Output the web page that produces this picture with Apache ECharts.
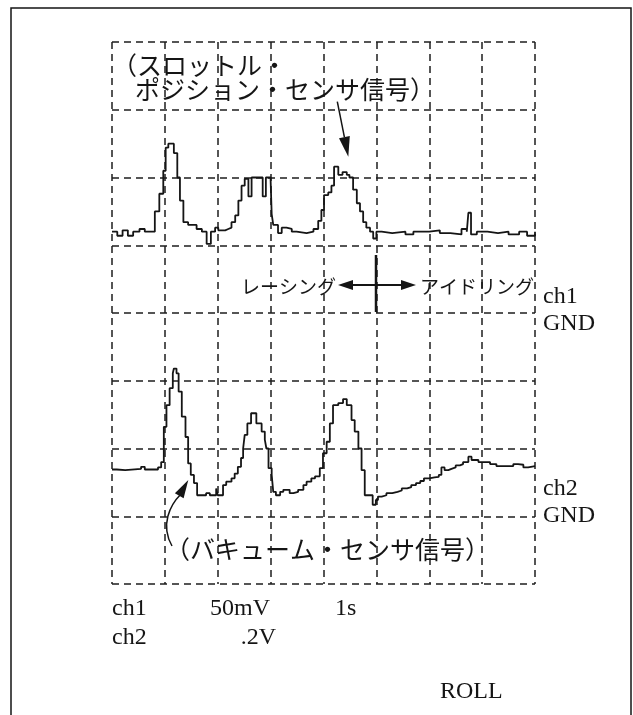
<!DOCTYPE html>
<html><head><meta charset="utf-8">
<script src="https://cdn.jsdelivr.net/npm/echarts/dist/echarts.min.js"></script>
<style>html,body{margin:0;padding:0;background:#fff}#c{width:633px;height:715px}</style>
</head><body><div id="c"></div>
<script>
// time axis: 1 s/div, 8 divisions
const timeTicks = [0, 1, 2, 3, 4, 5, 6, 7, 8];
const divTicks = [0, 1, 2, 3, 4, 5, 6, 7, 8];
// ch1: throttle position sensor, 50 mV/div, GND at division 4
const ch1Time = [0,0.10,0.20,0.30,0.40,0.52,0.62,0.81,0.895,0.97,1.015,1.065,1.17,1.235,1.285,1.35,1.44,1.60,1.70,1.79,1.87,1.95,2.01,2.14,2.20,2.26,2.33,2.39,2.45,2.51,2.58,2.64,2.85,2.91,3.00,3.02,3.05,3.14,3.21,3.30,3.40,3.49,3.68,3.81,3.90,3.96,4.01,4.09,4.15,4.20,4.28,4.36,4.44,4.49,4.56,4.63,4.69,4.75,4.81,4.88,4.94,5.00,5.10,5.30,5.55,5.70,6.00,6.20,6.40,6.61,6.71,6.74,6.79,6.90,7.10,7.30,7.50,7.70,7.85,8.00];
const ch1MilliVolts = [60,57,61,57,60,62,60,75,88,105,122,125,118,100,83,67,65,62,60,51,60,63,61,62,63,67,72,83,94,99,86,100,86,100,98,73,65,59,63,62,60,59,60,62,68,76,87,89,94,108,102,104,102,100,91,81,75,67,63,60,55,60,59,60,58,60,61,59,58,62,60,74,58,60,59,60,58,60,57,60];
// ch2: vacuum sensor, 0.2 V/div, GND at division 1
const ch2Time = [0,0.09,0.25,0.55,0.62,0.87,0.93,0.98,1.03,1.09,1.15,1.17,1.22,1.26,1.32,1.39,1.44,1.49,1.55,1.61,1.78,1.85,1.97,2.00,2.10,2.16,2.26,2.32,2.38,2.44,2.48,2.51,2.56,2.63,2.73,2.83,2.89,2.92,2.96,3.02,3.05,3.10,3.18,3.24,3.36,3.43,3.52,3.62,3.68,3.77,3.84,3.93,3.99,4.06,4.12,4.18,4.28,4.37,4.44,4.53,4.59,4.66,4.72,4.78,4.93,4.99,5.03,5.10,5.19,5.30,5.40,5.48,5.58,5.66,5.75,5.83,5.90,6.00,6.10,6.18,6.23,6.29,6.36,6.42,6.50,6.58,6.64,6.74,6.80,6.93,7.15,7.27,7.59,7.68,7.78,7.87,8.00];
const ch2Volts = [0.138,0.136,0.140,0.146,0.138,0.144,0.160,0.264,0.328,0.378,0.422,0.436,0.422,0.368,0.294,0.234,0.156,0.122,0.098,0.062,0.068,0.062,0.082,0.062,0.092,0.102,0.112,0.126,0.146,0.172,0.200,0.240,0.274,0.304,0.274,0.250,0.226,0.200,0.142,0.122,0.072,0.062,0.072,0.078,0.068,0.072,0.078,0.092,0.102,0.112,0.118,0.142,0.186,0.220,0.274,0.328,0.334,0.346,0.328,0.284,0.250,0.200,0.136,0.062,0.034,0.048,0.058,0.062,0.068,0.072,0.076,0.082,0.086,0.092,0.098,0.104,0.112,0.115,0.116,0.122,0.144,0.136,0.140,0.144,0.150,0.154,0.160,0.176,0.166,0.160,0.154,0.148,0.154,0.152,0.144,0.148,0.148];
const ch1PerDiv = 50, ch1Gnd = 4;
const ch2PerDiv = 0.2, ch2Gnd = 1;

const ch1Data = ch1Time.map((t, i) => [t, ch1MilliVolts[i] / ch1PerDiv + ch1Gnd]);
const ch2Data = ch2Time.map((t, i) => [t, ch2Volts[i] / ch2PerDiv + ch2Gnd]);

const jp = '"Noto Sans CJK JP", sans-serif';
const lat = '"Liberation Serif", "Times New Roman", serif';
const ink = '#151515';
const grid = {left: 112, top: 42, width: 423, height: 542};
const dash = {type: [7, 5], color: '#1e1e1e', width: 1.5};

function txt(text, x, y, size, family, align) {
  return {type: 'text', z: 10, style: {text: text, x: x, y: y, font: size + 'px ' + family, fill: ink, align: align || 'left', verticalAlign: 'middle'}};
}
function tri(p) { return {type: 'polygon', z: 10, shape: {points: p}, style: {fill: ink}}; }

const chart = echarts.init(document.getElementById('c'), null, {renderer: 'canvas'});
chart.setOption({
  backgroundColor: '#fff',
  animation: false,
  grid: grid,
  xAxis: {type: 'value', min: timeTicks[0], max: timeTicks[timeTicks.length - 1], interval: 1,
    axisLine: {show: false}, axisTick: {show: false}, axisLabel: {show: false},
    splitLine: {show: true, showMinLine: true, showMaxLine: true, lineStyle: dash}},
  yAxis: {type: 'value', min: divTicks[0], max: divTicks[divTicks.length - 1], interval: 1,
    axisLine: {show: false}, axisTick: {show: false}, axisLabel: {show: false},
    splitLine: {show: true, showMinLine: true, showMaxLine: true, lineStyle: dash}},
  series: [
    {type: 'line', step: 'end', data: ch1Data, symbol: 'none', lineStyle: {color: ink, width: 1.8}},
    {type: 'line', step: 'end', data: ch2Data, symbol: 'none', lineStyle: {color: ink, width: 1.8}}
  ],
  graphic: [
    {type: 'polyline', shape: {points: [[11, 716], [11, 8], [631, 8], [631, 716]]}, style: {stroke: ink, lineWidth: 1.5, fill: null}},
    txt('（スロットル・', 112, 65, 25, jp),
    txt('ポジション・センサ信号）', 135, 89, 25, jp),
    {type: 'line', z: 10, shape: {x1: 337.3, y1: 101.7, x2: 344.4, y2: 137.1}, style: {stroke: ink, lineWidth: 1.5}},
    tri([[348.3, 156.7], [349.8, 136.0], [339.0, 138.2]]),
    txt('レーシング', 336, 287, 19, jp, 'right'),
    txt('アイドリング', 420, 287, 19, jp),
    {type: 'line', z: 10, shape: {x1: 350, y1: 285, x2: 402, y2: 285}, style: {stroke: ink, lineWidth: 2}},
    tri([[338, 285], [353, 280], [353, 290]]),
    tri([[416, 285], [401, 280], [401, 290]]),
    {type: 'line', z: 10, shape: {x1: 376, y1: 255, x2: 376, y2: 312}, style: {stroke: ink, lineWidth: 2.5}},
    txt('ch1', 543, 297, 24, lat),
    txt('GND', 543, 324, 24, lat),
    txt('ch2', 543, 489, 24, lat),
    txt('GND', 543, 516, 24, lat),
    txt('（バキューム・センサ信号）', 165, 549, 25, jp),
    {type: 'bezierCurve', z: 10, shape: {x1: 172, y1: 546, x2: 181, y2: 494, cpx1: 160, cpy1: 525, cpx2: 170, cpy2: 505}, style: {stroke: ink, lineWidth: 1.5, fill: null}},
    tri([[188.3, 480], [183.6, 498.2], [174.9, 493.3]]),
    txt('ch1', 112, 609, 24, lat),
    txt('50mV', 210, 609, 24, lat),
    txt('1s', 335, 609, 24, lat),
    txt('ch2', 112, 638, 24, lat),
    txt('.2V', 276, 638, 24, lat, 'right'),
    txt('ROLL', 440, 692, 24, lat)
  ]
});
</script>
</body></html>
